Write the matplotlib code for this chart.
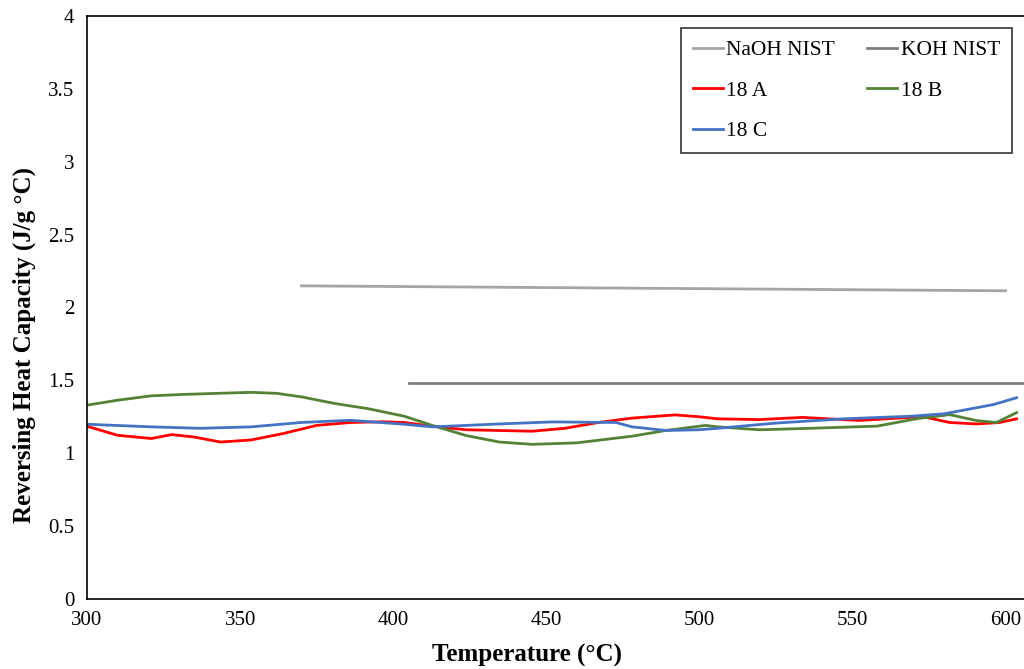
import numpy as np
import matplotlib
matplotlib.use('Agg')
from matplotlib import pyplot as plt

plt.rcParams['font.family'] = ['Liberation Serif', 'DejaVu Serif']

# NIST reference values
naoh_t = [370, 600]
naoh_cp = [2.148, 2.114]
koh_t = [405, 608]
koh_cp = [1.48, 1.48]

# sample 18 A
a_t = [300, 310, 321, 327.7, 335, 343.6, 353.6, 364, 375, 386, 397, 403.6, 412.7, 423.9, 434.6,
       445.4, 456, 467, 478, 492, 499.6, 506, 519.6, 533.7, 552, 573, 581.7, 590.5, 598, 603.6]
a_cp = [1.184, 1.122, 1.10, 1.127, 1.11, 1.076, 1.09, 1.134, 1.19, 1.21, 1.215, 1.21, 1.184, 1.16, 1.155,
        1.15, 1.17, 1.21, 1.24, 1.262, 1.25, 1.235, 1.23, 1.245, 1.224, 1.25, 1.21, 1.20, 1.21, 1.235]

# sample 18 B
b_t = [300, 310, 321, 332, 342.5, 353.6, 362, 370, 381, 391.5, 403.6, 412.7, 423.9, 434.6, 445.4,
       459.8, 467, 478, 489, 502, 506, 519.6, 536, 558, 571, 581.7, 590.5, 597, 603.6]
b_cp = [1.329, 1.363, 1.393, 1.403, 1.41, 1.417, 1.41, 1.386, 1.34, 1.306, 1.253, 1.19, 1.12, 1.076, 1.06,
        1.07, 1.088, 1.116, 1.155, 1.19, 1.18, 1.16, 1.17, 1.185, 1.236, 1.264, 1.223, 1.21, 1.278]

# sample 18 C
c_t = [300, 321, 337, 353.6, 370, 386, 403.6, 412.7, 423.9, 434.6, 452, 472.7, 478, 489, 499.6,
       506, 525, 547, 569, 580, 596, 603.6]
c_cp = [1.198, 1.18, 1.17, 1.18, 1.21, 1.225, 1.198, 1.18, 1.19, 1.20, 1.214, 1.21, 1.18, 1.155, 1.16,
        1.17, 1.206, 1.235, 1.253, 1.27, 1.333, 1.38]

fig = plt.figure(figsize=(10.24, 6.69), dpi=100)
ax = fig.add_axes([0.085, 0.105, 0.915, 0.871])

h_naoh, = ax.plot(naoh_t, naoh_cp, color='#A5A5A5', lw=2, label='NaOH NIST')
h_koh, = ax.plot(koh_t, koh_cp, color='#7F7F7F', lw=2, label='KOH NIST', clip_on=False)
h_a, = ax.plot(a_t, a_cp, color='#FF0000', lw=2, label='18 A')
h_b, = ax.plot(b_t, b_cp, color='#548235', lw=2, label='18 B')
h_c, = ax.plot(c_t, c_cp, color='#4472C4', lw=2, label='18 C')

ax.set_xlim(300, 606)
ax.set_ylim(0, 4)
ax.set_xticks(np.arange(300, 601, 50))
ax.set_yticks(np.arange(0, 4.01, 0.5))
ax.set_yticklabels(['0', '0.5', '1', '1.5', '2', '2.5', '3', '3.5', '4'])
ax.tick_params(length=0, labelsize=15, pad=9)
ax.spines['right'].set_visible(False)
for s in ['left', 'bottom', 'top']:
    ax.spines[s].set_linewidth(1.2)

ax.set_xlabel('Temperature (°C)', fontsize=18, fontweight='bold')
ax.set_ylabel('Reversing Heat Capacity (J/g °C)', fontsize=18, fontweight='bold')
ax.xaxis.set_label_coords(0.47, -0.078)
ax.yaxis.set_label_coords(-0.055, 0.435)

# legend fills column-wise, so order handles to read row by row
handles = [h_naoh, h_a, h_c, h_koh, h_b]
leg = ax.legend(handles=handles, labels=[h.get_label() for h in handles],
                loc='upper right', bbox_to_anchor=(0.987, 0.979), borderaxespad=0, ncol=2,
                fontsize=15.5, frameon=True, fancybox=False, edgecolor='black',
                handlelength=1.4, handletextpad=0.15, columnspacing=1.5, labelspacing=0.95,
                borderpad=0.55)
leg.get_frame().set_linewidth(1.2)

fig.savefig('out.png', dpi=100)
plt.close()
